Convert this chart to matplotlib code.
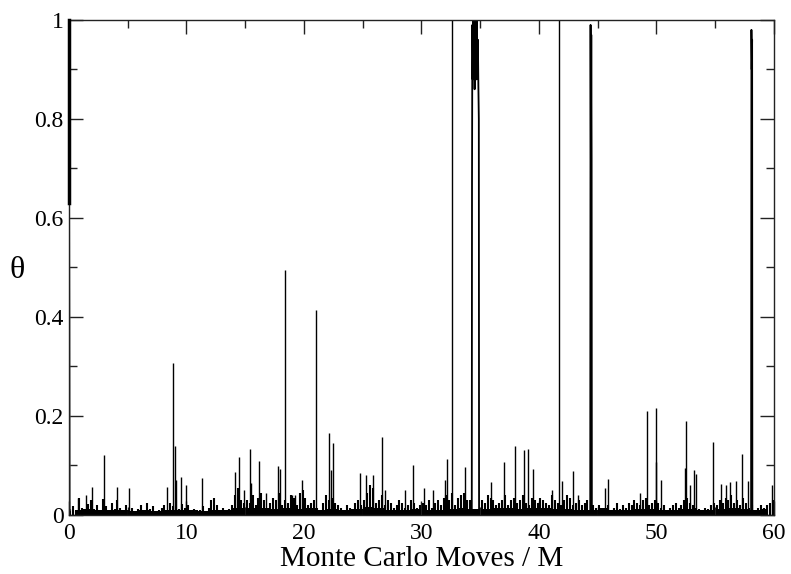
import matplotlib
matplotlib.use('Agg')
import matplotlib.pyplot as plt
import numpy as np

# background noise, one value per 0.25 M (rows of 5 M)
noise = [
    0.012, 0.018, 0.008, 0.035, 0.015, 0.010, 0.022, 0.030, 0.012, 0.020, 0.008, 0.033, 0.018, 0.010, 0.025, 0.012, 0.030, 0.015, 0.008, 0.020,
    0.010, 0.015, 0.006, 0.012, 0.020, 0.008, 0.025, 0.012, 0.018, 0.006, 0.010, 0.015, 0.020, 0.008, 0.025, 0.018, 0.030, 0.012, 0.022, 0.015,
    0.020, 0.008, 0.012, 0.006, 0.010, 0.018, 0.008, 0.015, 0.030, 0.035, 0.020, 0.010, 0.015, 0.008, 0.012, 0.020, 0.040, 0.055, 0.030, 0.025,
    0.030, 0.025, 0.040, 0.020, 0.035, 0.045, 0.030, 0.015, 0.025, 0.035, 0.030, 0.045, 0.020, 0.030, 0.025, 0.040, 0.035, 0.020, 0.045, 0.050,
    0.035, 0.020, 0.025, 0.030, 0.015, 0.010, 0.025, 0.040, 0.030, 0.035, 0.025, 0.020, 0.015, 0.010, 0.020, 0.015, 0.010, 0.025, 0.030, 0.020,
    0.030, 0.045, 0.060, 0.055, 0.025, 0.030, 0.040, 0.020, 0.030, 0.025, 0.015, 0.020, 0.030, 0.025, 0.015, 0.020, 0.030, 0.025, 0.015, 0.020,
    0.025, 0.020, 0.030, 0.015, 0.025, 0.030, 0.020, 0.035, 0.040, 0.030, 0.045, 0.020, 0.035, 0.040, 0.045, 0.030, 0.030, 0.000, 0.000, 0.000,
    0.030, 0.025, 0.040, 0.035, 0.030, 0.020, 0.025, 0.030, 0.040, 0.020, 0.030, 0.035, 0.025, 0.030, 0.040, 0.025, 0.020, 0.035, 0.030, 0.025,
    0.035, 0.030, 0.025, 0.020, 0.040, 0.030, 0.025, 0.020, 0.030, 0.040, 0.035, 0.020, 0.025, 0.030, 0.020, 0.025, 0.030, 0.000, 0.020, 0.015,
    0.020, 0.015, 0.012, 0.020, 0.010, 0.015, 0.025, 0.012, 0.020, 0.015, 0.025, 0.020, 0.030, 0.025, 0.020, 0.030, 0.035, 0.020, 0.025, 0.030,
    0.025, 0.015, 0.020, 0.010, 0.015, 0.020, 0.025, 0.015, 0.020, 0.030, 0.035, 0.025, 0.020, 0.015, 0.012, 0.010, 0.015, 0.012, 0.020, 0.025,
    0.020, 0.030, 0.025, 0.035, 0.030, 0.040, 0.025, 0.030, 0.020, 0.035, 0.025, 0.015, 0.020, 0.010, 0.015, 0.020, 0.015, 0.020, 0.025, 0.030,
]
noise_step = 0.25

# solid floor of the noise band, one value per 1 M
floor = [
    0.011, 0.012, 0.011, 0.010, 0.011, 0.009, 0.010, 0.009, 0.010, 0.011,
    0.010, 0.009, 0.011, 0.010, 0.014, 0.015, 0.014, 0.013, 0.014, 0.013,
    0.015, 0.011, 0.012, 0.011, 0.012, 0.016, 0.014, 0.011, 0.011, 0.012,
    0.011, 0.011, 0.012, 0.014, 0.012, 0.012, 0.014, 0.014, 0.012, 0.014,
    0.014, 0.012, 0.012, 0.011, 0.011, 0.014, 0.011, 0.011, 0.012, 0.012,
    0.011, 0.011, 0.012, 0.011, 0.010, 0.012, 0.014, 0.012, 0.011, 0.012,
]

# isolated spikes
spike_x = [0.8, 1.45, 2.0, 3.0, 4.1, 5.1, 8.34, 8.88, 9.05, 9.12, 9.53, 9.93, 11.3,
           14.1, 14.5, 14.9, 15.4, 15.45, 16.2, 16.8, 17.8, 18.0, 18.4, 19.0, 19.2,
           19.85, 21.0, 22.1, 22.3, 22.5, 24.8, 25.25, 25.85, 26.6, 26.9, 28.6, 29.25,
           30.2, 31.0, 32.0, 32.2, 32.6, 33.7, 35.9, 37.0, 37.95, 38.75, 39.06, 39.5,
           41.1, 41.7, 41.95, 42.9, 43.3, 45.65, 45.9, 48.6, 49.15, 49.95, 50.0, 50.4,
           52.45, 52.5, 52.85, 53.15, 53.4, 54.85, 55.5, 55.9, 56.25, 56.75, 57.3,
           57.75, 59.8]
spike_y = [0.035, 0.040, 0.057, 0.121, 0.057, 0.055, 0.057, 0.308, 0.139, 0.070, 0.076, 0.060, 0.074,
           0.086, 0.118, 0.050, 0.133, 0.065, 0.110, 0.045, 0.098, 0.092, 0.495, 0.040, 0.040,
           0.070, 0.414, 0.165, 0.090, 0.145, 0.085, 0.080, 0.080, 0.158, 0.050, 0.050, 0.100,
           0.055, 0.050, 0.070, 0.113, 1.000, 0.096, 0.066, 0.108, 0.140, 0.131, 0.134, 0.092,
           0.050, 1.000, 0.068, 0.089, 0.040, 0.054, 0.072, 0.045, 0.211, 0.217, 0.108, 0.070,
           0.095, 0.189, 0.060, 0.091, 0.083, 0.148, 0.062, 0.060, 0.066, 0.068, 0.123,
           0.068, 0.060]

# episodes where theta stays high
start_x = [0.0, 0.0, 0.0]
start_y = [1.0, 0.63, 0.63]
start_tail_x = [0.03, 0.06, 0.09]
start_tail_y = [0.63, 0.40, 0.01]
ep34_x = [34.28, 34.30, 34.33, 34.36, 34.40, 34.44, 34.48, 34.52, 34.56, 34.60,
          34.64, 34.68, 34.72, 34.76, 34.80, 34.84, 34.88, 34.90]
ep34_y = [0.0, 0.67, 0.99, 0.88, 1.0, 0.90, 0.98, 0.86, 1.0, 0.92,
          0.97, 0.88, 1.0, 0.90, 0.96, 0.87, 0.80, 0.0]
ep44_x = [44.36, 44.39, 44.42, 44.45, 44.48, 44.50]
ep44_y = [0.0, 0.99, 0.70, 0.97, 0.72, 0.0]
ep58_x = [58.05, 58.08, 58.11, 58.14, 58.16]
ep58_y = [0.0, 0.98, 0.90, 0.96, 0.0]

plt.rcParams['font.family'] = ['Liberation Serif', 'DejaVu Serif']

fig = plt.figure(figsize=(7.91, 5.74), dpi=100)
ax = fig.add_axes([0.0872, 0.1028, 0.8913, 0.8624])

noise_x = noise_step / 2 + noise_step * np.arange(len(noise))
ax.vlines(noise_x, 0, noise, color='black', linewidth=1.5)
floor_x = np.arange(len(floor)) + 0.5
ax.fill_between(floor_x, 0, floor, step='mid', color='black', linewidth=0)
ax.vlines(spike_x, 0, spike_y, color='black', linewidth=1.0)
for ex, ey in [(ep34_x, ep34_y), (ep44_x, ep44_y), (ep58_x, ep58_y)]:
    ax.plot(ex, ey, color='black', linewidth=1.3)
ax.plot(start_x, start_y, color='black', linewidth=2.5, clip_on=False, zorder=5)
ax.plot(start_tail_x, start_tail_y, color='#555555', linewidth=1.0)

ax.set_xlim(0, 60)
ax.set_ylim(0, 1)
ax.set_xticks([0, 10, 20, 30, 40, 50, 60])
ax.set_xticks(np.arange(5, 60, 10), minor=True)
ax.set_yticks([0, 0.2, 0.4, 0.6, 0.8, 1.0])
ax.set_yticklabels(['0', '0.2', '0.4', '0.6', '0.8', '1'])
ax.set_yticks([0.1, 0.3, 0.5, 0.7, 0.9], minor=True)
ax.tick_params(which='both', direction='in', top=True, right=True, width=1.0, color='#222222')
ax.tick_params(which='major', length=10, labelsize=17)
ax.tick_params(which='minor', length=6)
ax.tick_params(axis='x', pad=6)
ax.tick_params(axis='y', pad=4)
for sp in ax.spines.values():
    sp.set_linewidth(1.0)
    sp.set_color('#222222')

ax.set_xlabel('Monte Carlo Moves / M', fontsize=21, labelpad=1)
ax.set_ylabel('θ', fontsize=23, rotation=0, ha='center', va='center')
ax.yaxis.set_label_coords(-0.074, 0.493)

fig.savefig('out.png', dpi=100)
